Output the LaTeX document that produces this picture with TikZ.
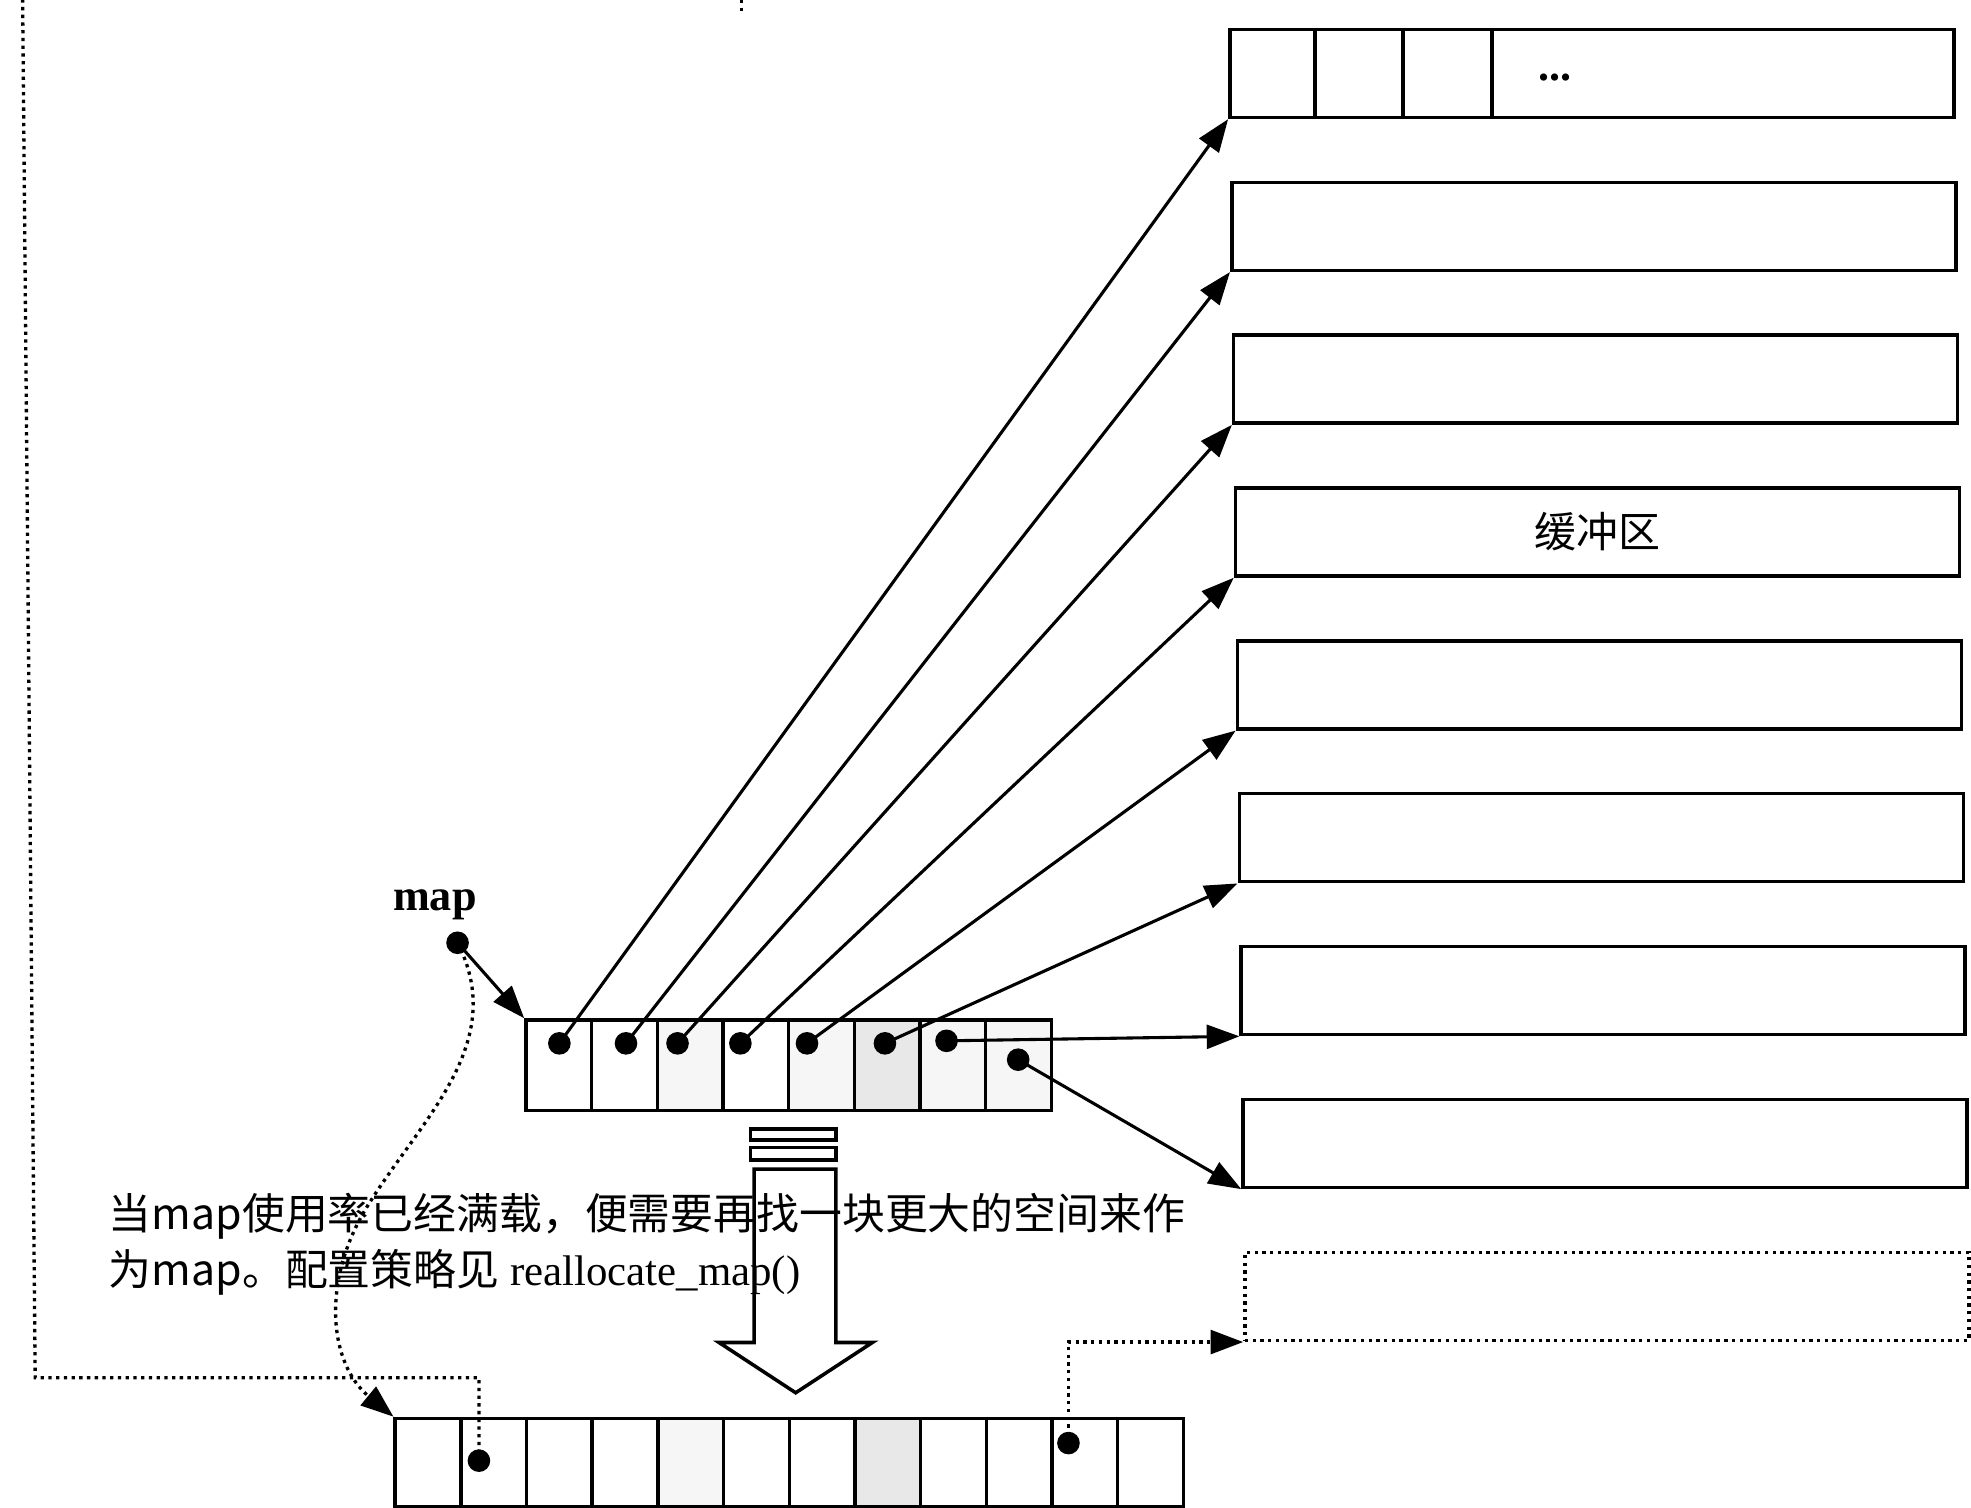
\documentclass[tikz,border=0pt]{standalone}
\usepackage{fontspec}
\setmainfont{Liberation Serif}
\newfontfamily\cjk{Noto Sans CJK SC}
\usetikzlibrary{arrows.meta, positioning}
\definecolor{StippleLight}{RGB}{246,246,246}
\definecolor{StippleDark}{RGB}{232,232,232}

\begin{document}
\begin{tikzpicture}[x=0.1mm, y=-0.1mm,
    buf/.style={draw, line width=0.8pt, minimum width=57.6mm, minimum height=7mm,
                inner sep=0pt, anchor=north west},
    cell/.style={draw, line width=0.8pt, minimum width=5.225mm, minimum height=7.2mm,
                 inner sep=0pt, anchor=north west},
    ptrdot/.style={circle, fill=black, inner sep=0pt, minimum size=1.8mm},
    ptr/.style={line width=0.7pt, -{Triangle[length=2.6mm, width=1.9mm]}},
    dotline/.style={line width=0.75pt, densely dotted}]
            \useasboundingbox (0,0) rectangle (1568,1199);
            % Buffers
            \foreach \i in {1,...,8} {
                \node[buf] (b\i) at ({977+1.5*(\i-1)}, {22+121.6*(\i-1)}) {};
            }
            \node[buf, dotline] (b9) at (989, 995) {};
            \foreach \x in {1046, 1116, 1187} {
                \draw[line width=0.8pt] (\x, 22) -- (\x, 92);
            }
            \node (dots) at (1237, 62) {\textbf{...}};
            \node[font=\cjk\fontsize{9.5}{11}\selectfont] (bufname) at (b4.center) {缓冲区};
            % Map array
            \foreach \i/\shade in {1/white, 2/white, 3/StippleLight, 4/white,
                                   5/StippleLight, 6/StippleDark, 7/StippleLight, 8/StippleLight} {
                \node[cell, fill=\shade] (m\i) at ({417+52.25*(\i-1)}, 810) {};
            }
            \foreach \i/\px/\py in {1/445/830, 2/498/830, 3/539/830, 4/589/830,
                                    5/642/830, 6/704/830, 7/753/828, 8/810/843} {
                \node[ptrdot] (p\i) at (\px, \py) {};
                \draw[ptr] (p\i.center) -- (b\i.south west);
            }
            \node[font=\bfseries\fontsize{10}{12}\selectfont] (maplbl) at (346, 720) {map};
            \node[ptrdot] (mapptr) at (364, 750) {};
            \draw[ptr] (mapptr.center) -- (m1.north west);
            % New map array
            \foreach \i in {1,...,12} {
                \node[cell, minimum height=7mm] (n\i) at ({313+52.25*(\i-1)}, 1127) {};
            }
            \node[cell, minimum height=7mm, fill=StippleDark] at (n8.north west) {};
            \node[cell, minimum height=7mm, fill=StippleLight] at (n5.north west) {};
            \node[ptrdot] (q2) at (381, 1162) {};
            \node[ptrdot] (q11) at (850, 1148) {};
            % Dotted links
            \draw[dotline, -{Triangle[length=2.6mm, width=1.9mm]}] (mapptr.center)
                .. controls (405,830) and (335,890) .. (292,960)
                .. controls (255,1020) and (262,1085) .. (n1.north west);
            \coordinate (turnl) at (28, 1096);
            \coordinate (upleft) at (18, 0);
            \draw[dotline] (q2.center) |- (turnl) -- (upleft);
            \draw[dotline, -{Triangle[length=2.6mm, width=1.9mm]}] (q11.center) |- (b9.south west);
            \coordinate (stubtop) at (590, 0);
            \coordinate (stubbot) at (590, 10);
            \draw[dotline] (stubtop) -- (stubbot);
            % Hollow arrow
            \draw[line width=0.8pt] (597,898) rectangle (665,907);
            \draw[line width=0.8pt] (597,913) rectangle (665,923);
            \draw[line width=0.8pt] (600,930) -- (665,930) -- (665,1068) -- (694,1068)
                -- (633,1108) -- (572,1068) -- (600,1068) -- cycle;
            % Note
            \node[anchor=west, align=left, inner sep=0pt, font=\fontsize{9.7}{12.8}\selectfont] (note)
                at (86, 990) {{\cjk 当map使用率已经满载，便需要再找一块更大的空间来作}\\
                              {\cjk 为map。配置策略见} reallocate\_map()};
\end{tikzpicture}
\end{document}
